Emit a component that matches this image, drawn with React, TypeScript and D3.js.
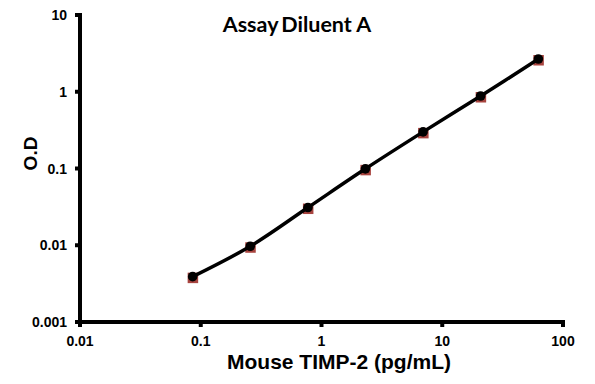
import React from "react";
import * as d3 from "d3";

const concentrations = [0.0857, 0.257, 0.772, 2.31, 6.94, 20.8, 62.5];
const odValues = [0.0039, 0.0097, 0.031, 0.099, 0.30, 0.88, 2.67];
const xTicks = [0.01, 0.1, 1, 10, 100];
const yTicks = [0.001, 0.01, 0.1, 1, 10];
const xTickLabels = ["0.01", "0.1", "1", "10", "100"];
const yTickLabels = ["0.001", "0.01", "0.1", "1", "10"];
const titleParts = ["Assay", "Diluent A"];
const xTitle = "Mouse TIMP-2 (pg/mL)";
const yTitle = "O.D";

export default function App() {
  const W = 595, H = 384;
  const x = d3.scaleLog().domain([0.01, 100]).range([80, 563]);
  const y = d3.scaleLog().domain([0.001, 10]).range([322, 15]);
  const pts = concentrations.map((c, i) => [x(c), y(odValues[i])] as [number, number]);
  const line = d3.line().curve(d3.curveCatmullRom.alpha(0.5))(pts) || "";
  const font = "'Liberation Sans', Arial, sans-serif";
  return (
    <svg width={W} height={H} style={{ position: "absolute", left: 0, top: 0, background: "#fff" }}>
      <rect width={W} height={H} fill="#fff" />
      <text x={297} y={32} textAnchor="middle" fontFamily="Lato, 'Open Sans', sans-serif" fontWeight="bold" fontSize={21.5} fill="#000">
        <tspan>{titleParts[0]}</tspan>
        <tspan dx={3}>{titleParts[1]}</tspan>
      </text>
      <line x1={80} y1={13} x2={80} y2={324} stroke="#000" strokeWidth={4} />
      <line x1={78} y1={322} x2={565} y2={322} stroke="#000" strokeWidth={4} />
      {yTicks.map((t, i) => (
        <g key={"y" + i}>
          <line x1={75} x2={80} y1={y(t)} y2={y(t)} stroke="#000" strokeWidth={4} />
          <text x={67} y={y(t) + 5} textAnchor="end" fontFamily={font} fontWeight="bold" fontSize={14} fill="#000">{yTickLabels[i]}</text>
        </g>
      ))}
      {xTicks.map((t, i) => (
        <g key={"x" + i}>
          <line x1={x(t)} x2={x(t)} y1={322} y2={327} stroke="#000" strokeWidth={4} />
          <text x={x(t)} y={346} textAnchor="middle" fontFamily={font} fontWeight="bold" fontSize={14} fill="#000">{xTickLabels[i]}</text>
        </g>
      ))}
      <text x={339} y={369} textAnchor="middle" fontFamily={font} fontWeight="bold" fontSize={21} fill="#000">{xTitle}</text>
      <text transform="translate(37,153.5) rotate(-90)" textAnchor="middle" fontFamily={font} fontWeight="bold" fontSize={19} fill="#000">{yTitle}</text>
      {pts.map((p, i) => (
        <rect key={"s" + i} x={p[0] - 5} y={p[1] - 4} width={10.5} height={10.5} fill="#a8443f" />
      ))}
      <path d={line} fill="none" stroke="#000" strokeWidth={3.5} />
      {pts.map((p, i) => (
        <circle key={"c" + i} cx={p[0]} cy={p[1]} r={4.8} fill="#000" />
      ))}
    </svg>
  );
}
